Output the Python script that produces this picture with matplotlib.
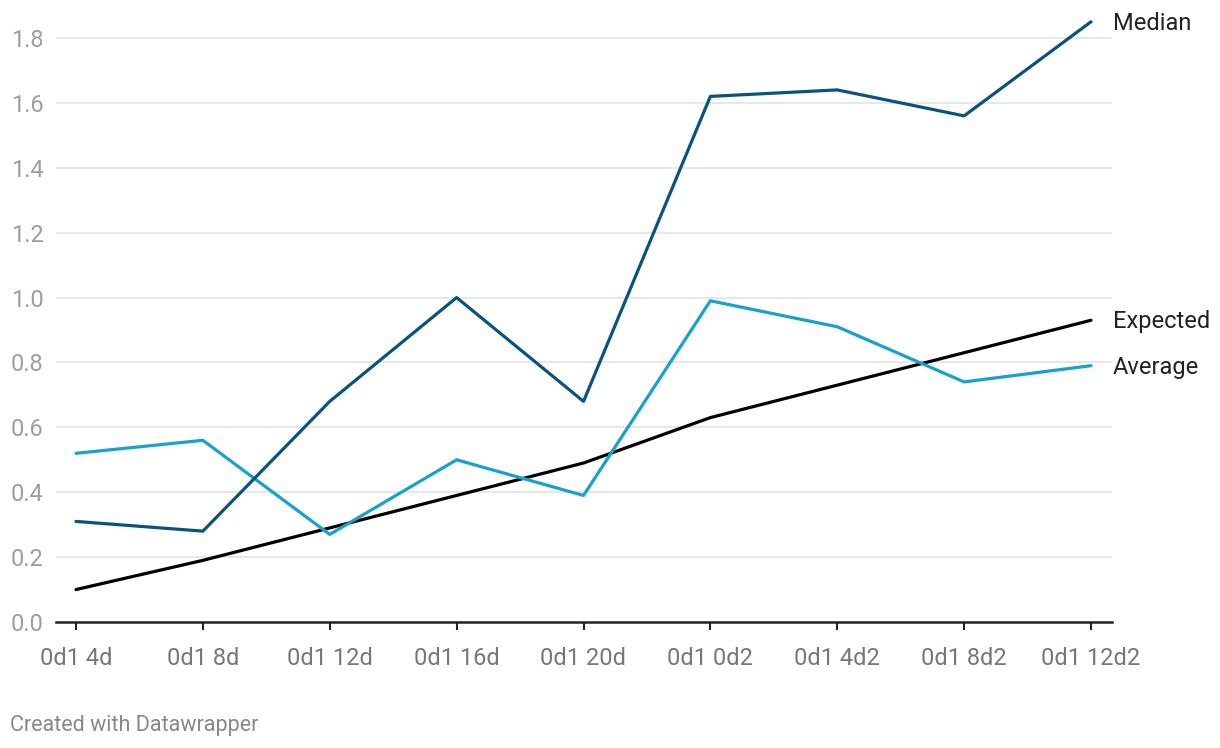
import matplotlib
matplotlib.use("Agg")
import matplotlib.pyplot as plt

categories = ["0d1 4d", "0d1 8d", "0d1 12d", "0d1 16d", "0d1 20d",
              "0d1 0d2", "0d1 4d2", "0d1 8d2", "0d1 12d2"]
median = [0.31, 0.28, 0.68, 1.00, 0.68, 1.62, 1.64, 1.56, 1.85]
average = [0.52, 0.56, 0.27, 0.50, 0.39, 0.99, 0.91, 0.74, 0.79]
expected = [0.10, 0.19, 0.29, 0.39, 0.49, 0.63, 0.73, 0.83, 0.93]
yticks = [0.0, 0.2, 0.4, 0.6, 0.8, 1.0, 1.2, 1.4, 1.6, 1.8]

plt.rcParams['font.family'] = ['Roboto', 'DejaVu Sans']

W, H = 1220, 748
fig = plt.figure(figsize=(W / 100, H / 100), dpi=100)
left, right, bottom = 56, 1112, 622
ymax = 1.9
pxper = (622 - 38) / 1.8
top = bottom - ymax * pxper
ax = fig.add_axes([left / W, 1 - bottom / H, (right - left) / W, (bottom - top) / H])

x = list(range(len(categories)))
step = (1091 - 76) / 8
ax.set_xlim(-(76 - left) / step, 8 + (right - 1091) / step)
ax.set_ylim(0, ymax)

ax.set_yticks(yticks)
ax.set_yticklabels([f"{v:.1f}" for v in yticks])
for v in yticks[1:]:
    ax.axhline(v, color="#e3e3e3", lw=1.2, zorder=0)

ax.plot(x, expected, color="#000000", lw=2.3, solid_capstyle="round", zorder=3)
ax.plot(x, average, color="#18a1cd", lw=2.3, solid_capstyle="round", zorder=4)
ax.plot(x, median, color="#09547f", lw=2.3, solid_capstyle="round", zorder=5)

for name, vals in [("Median", median), ("Expected", expected), ("Average", average)]:
    ax.annotate(name, xy=(x[-1], vals[-1]), xytext=(15.5, -1), textcoords="offset points",
                ha="left", va="center", fontsize=17, color="#222222", annotation_clip=False)

for s in ["top", "right", "left"]:
    ax.spines[s].set_visible(False)
ax.spines["bottom"].set_color("#222222")
ax.spines["bottom"].set_linewidth(1.8)

ax.set_xticks(x)
ax.set_xticklabels(categories)
ax.tick_params(axis="x", length=6, width=1.5, color="#222222", pad=12,
               labelsize=17, labelcolor="#777777")
ax.tick_params(axis="y", length=0, pad=9, labelsize=17, labelcolor="#9e9e9e")

fig.text(10 / W, 1 - 725 / H, "Created with Datawrapper", fontsize=15.5, color="#888888",
         ha="left", va="center")

fig.savefig("out.png", dpi=100)
